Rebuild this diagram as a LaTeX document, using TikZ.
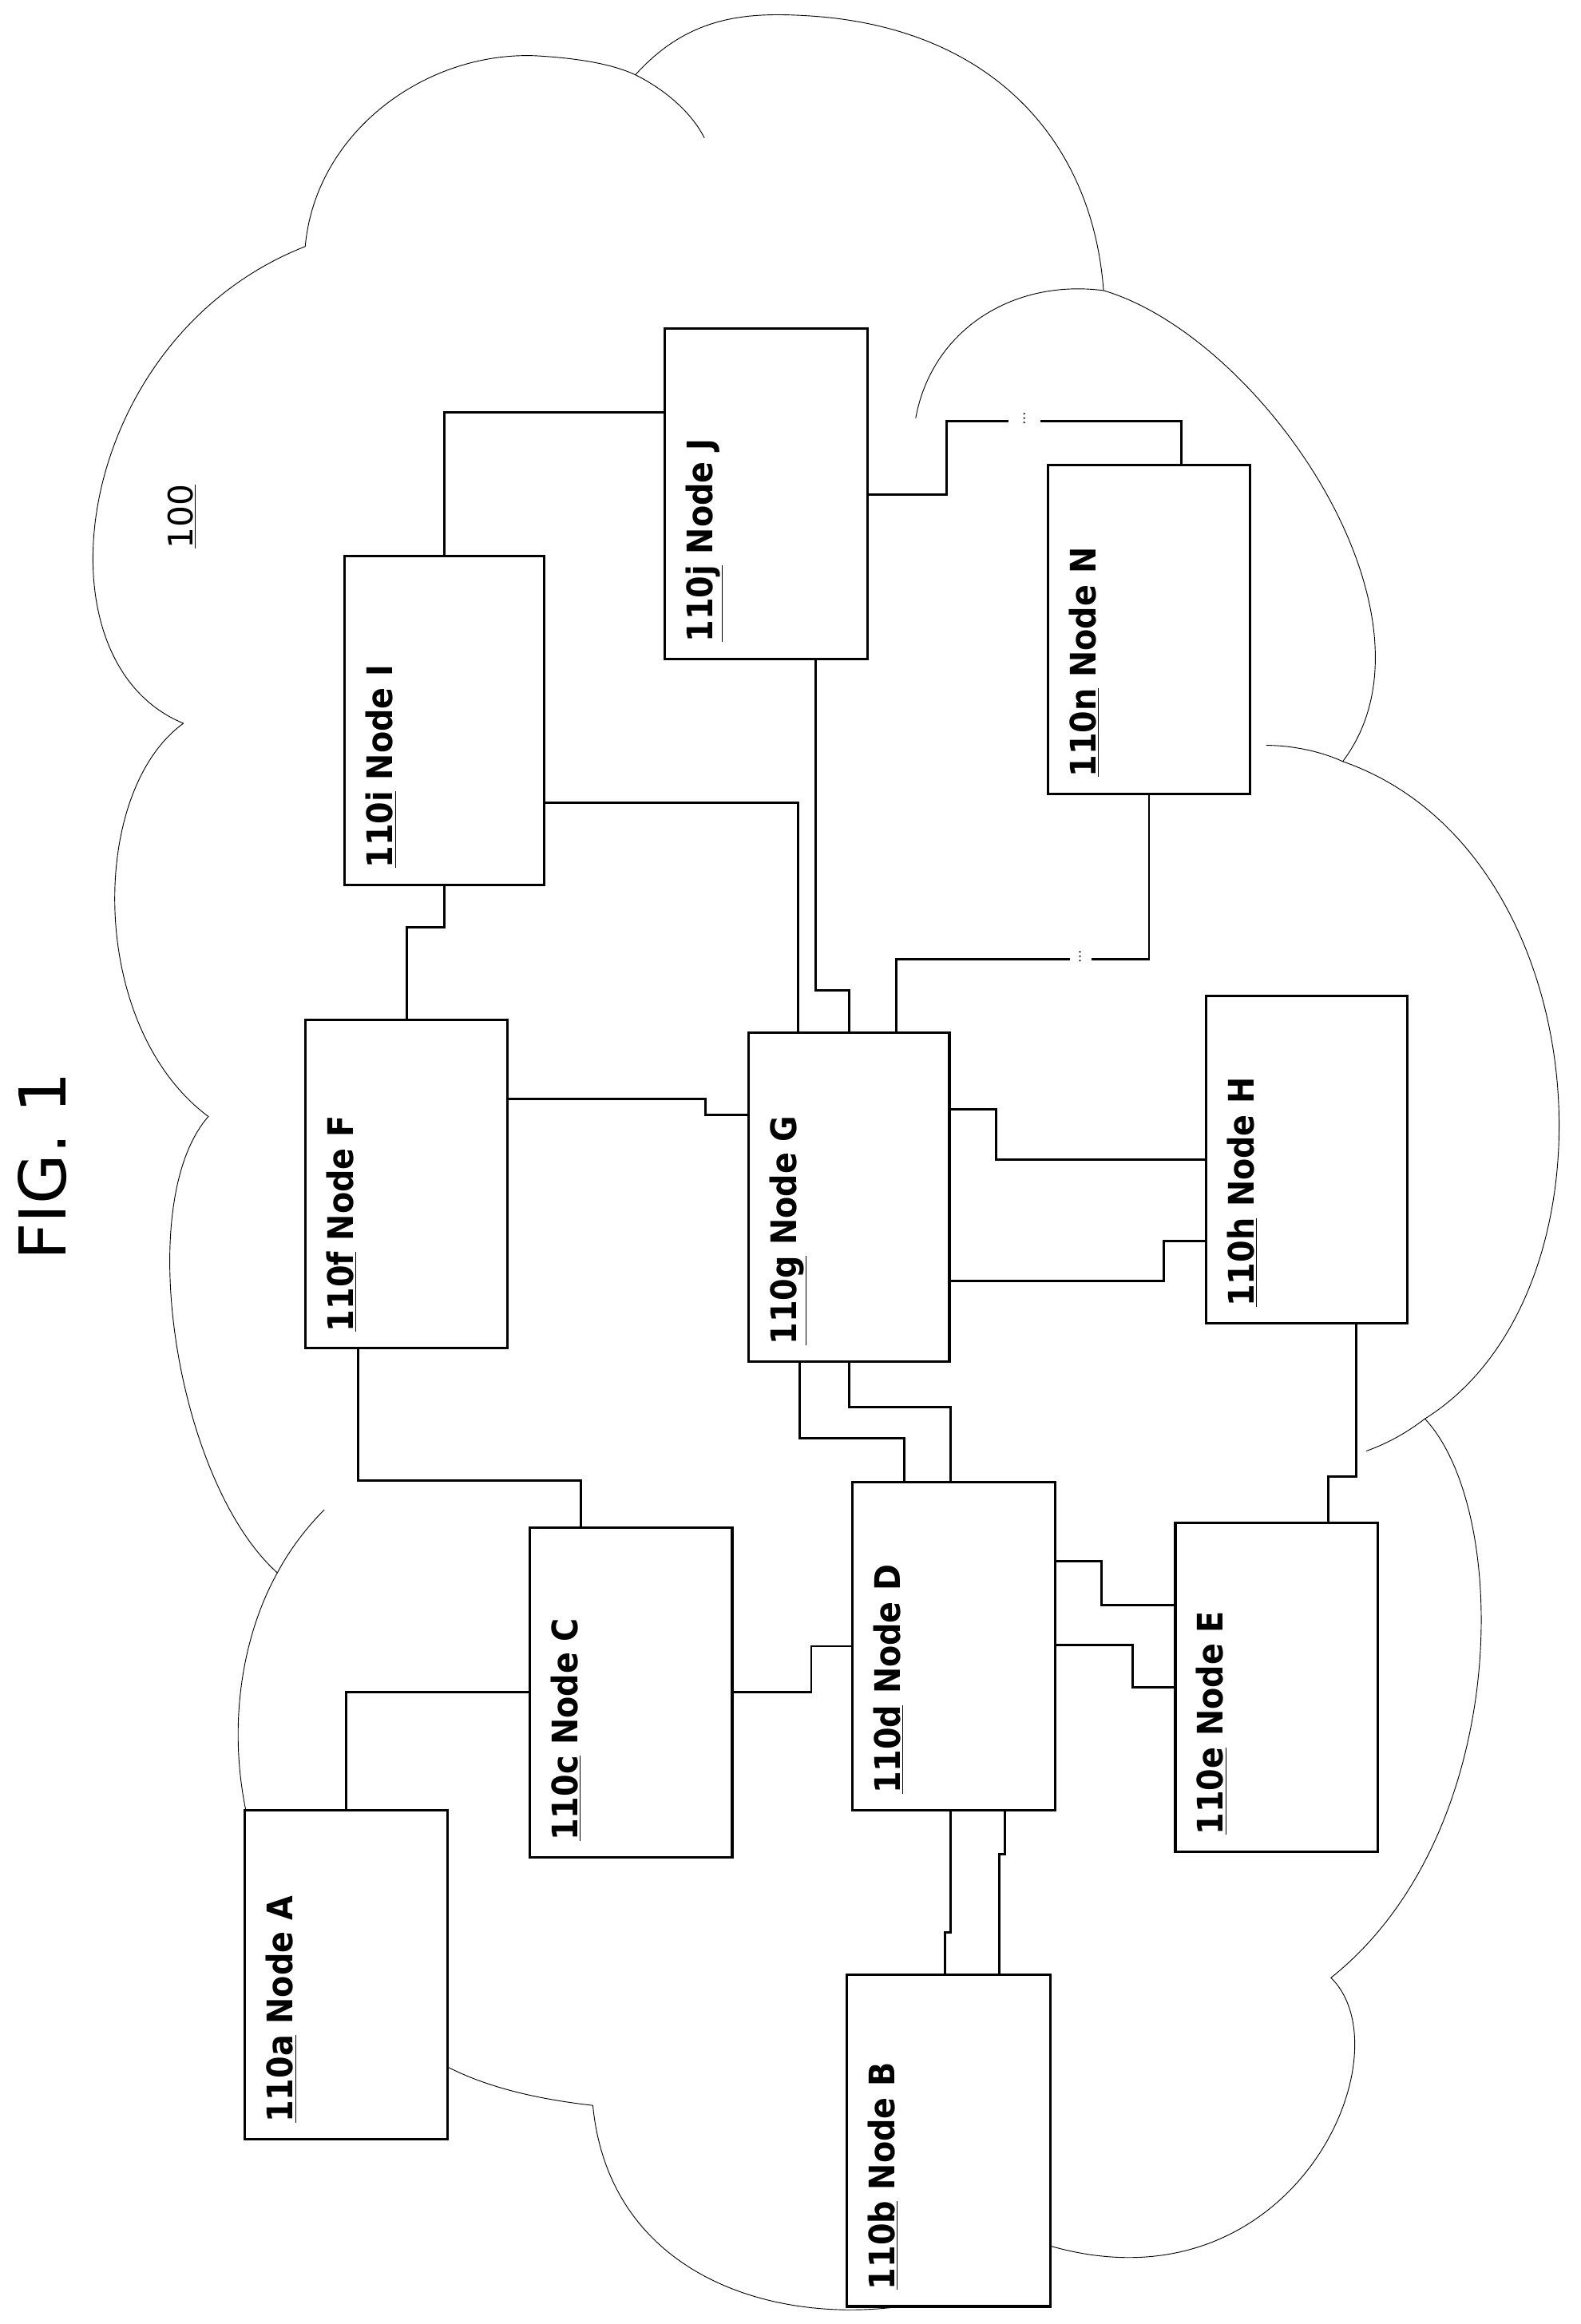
\documentclass[tikz,border=0pt]{standalone}
\usepackage{fontspec}
\setmainfont{DejaVu Sans}
\newfontfamily\nodefont{DejaVu Sans Condensed}
\begin{document}
\begin{tikzpicture}[x=1pt,y=1pt,
  box/.style={draw,line width=1.7pt,fill=white,inner sep=0pt,minimum width=138pt,minimum height=224pt},
  lab/.style={rotate=90,anchor=north west,inner sep=0pt,font=\nodefont\bfseries\fontsize{24}{28}\selectfont},
  con/.style={line width=1.6pt},
  cloud/.style={line width=0.5pt},
  dots/.style={rotate=90,inner sep=0pt,font=\fontsize{9}{9}\selectfont}]
\useasboundingbox[fill=white] (0,0) rectangle (1077,-1584);
% cloud
\draw[cloud] (125,-493) .. controls (20,-450) and (50,-230) .. (208,-168)
  .. controls (215,-90) and (290,-35) .. (365,-38)
  .. controls (400,-40) and (420,-45) .. (433,-51)
  .. controls (470,-10) and (510,-8) .. (554,-11)
  .. controls (680,-20) and (745,-100) .. (752,-198)
  .. controls (860,-230) and (990,-420) .. (915,-519)
  .. controls (1090,-580) and (1110,-880) .. (971,-967)
  .. controls (1030,-1030) and (1030,-1250) .. (907,-1348)
  .. controls (960,-1400) and (880,-1580) .. (713,-1530)
  .. controls (640,-1600) and (420,-1600) .. (404,-1435)
  .. controls (360,-1430) and (320,-1420) .. (290,-1400)
  .. controls (150,-1320) and (140,-1160) .. (189,-1072)
  .. controls (120,-1010) and (90,-820) .. (142,-761)
  .. controls (60,-700) and (60,-540) .. (125,-493);
\draw[cloud] (433,-51) .. controls (455,-62) and (472,-78) .. (480,-94);
\draw[cloud] (624,-285) .. controls (635,-225) and (690,-190) .. (752,-198);
\draw[cloud] (863,-508) .. controls (880,-508) and (900,-512) .. (915,-519);
\draw[cloud] (971,-967) .. controls (958,-977) and (945,-984) .. (931,-989);
\draw[cloud] (189,-1072) .. controls (198,-1055) and (210,-1040) .. (221,-1029);
% title and label
\node[rotate=90,font=\fontsize{44}{50}\selectfont] (fig) at (29,-795) {FIG. 1};
\node[rotate=90,font=\fontsize{23}{26}\selectfont] (cl) at (124,-352) {\underline{100}};
% boxes
\node[box] (A) at (236,-1346) {};
\node[box,minimum width=139pt,minimum height=226pt] (B) at (646.5,-1459) {};
\node[box,minimum height=225pt] (C) at (430,-1153.5) {};
\node[box] (D) at (650,-1122) {};
\node[box] (E) at (870,-1150) {};
\node[box] (F) at (277,-807) {};
\node[box,minimum width=137pt] (G) at (578.5,-816) {};
\node[box,minimum width=137pt,minimum height=223pt] (H) at (890.5,-790.5) {};
\node[box,minimum width=136pt] (I) at (303,-491) {};
\node[box,minimum height=225pt] (J) at (522,-336.5) {};
\node[box] (N) at (783,-429) {};
\foreach \n/\t in {A/110a,B/110b,C/110c,D/110d,E/110e,F/110f,G/110g,H/110h,I/110i,J/110j,N/110n}
  \node[lab] (l\n) at ([xshift=15pt,yshift=12pt]\n.south west) {\underline{\t} Node \n};
% connectors
\draw[con] (A.north) |- (C.west);
\draw[con] ([xshift=-34pt]C.north) -- ++(0,31) -| ([xshift=-33pt]F.south);
\draw[con] (C.east) -- ++(53,0) |- (D.west);
\draw[con] ([yshift=58pt]D.east) -- ++(31,0) |- ([yshift=56pt]E.west);
\draw[con] ([yshift=1pt]D.east) -- ++(52,0) |- (E.west);
\draw[con] ([xshift=-2pt]D.south) -- ++(0,-82) -| ([xshift=-2.5pt]B.north);
\draw[con] ([xshift=35pt]D.south) -- ++(0,-29) -| ([xshift=34.5pt]B.north);
\draw[con] ([xshift=-34pt]D.north) -- ++(0,29) -| ([xshift=-33.5pt]G.south);
\draw[con] ([xshift=-2pt]D.north) -- ++(0,50) -| (G.south);
\draw[con] ([xshift=35pt]E.north) -- ++(0,31) -| ([xshift=33.5pt]H.south);
\draw[con] ([yshift=60pt]G.east) -- ++(31,0) |- (H.west);
\draw[con] ([yshift=-57pt]G.east) -- ++(145,0) |- ([yshift=-55.5pt]H.west);
\draw[con] ([yshift=58pt]F.east) -- ++(134,0) |- ([yshift=56pt]G.west);
\draw[con] (F.north) -- ++(0,62) -| (I.south);
\draw[con] ([yshift=-56pt]I.east) -| ([xshift=-34.5pt]G.north);
\draw[con] ([xshift=34pt]J.south) -- ++(0,-225) -| (G.north);
\draw[con] (I.north) |- ([yshift=55.5pt]J.west);
\coordinate (gn1) at (729,-654);
\coordinate (gn2) at (744,-654);
\node[dots] (gnd) at (736,-652) {…};
\draw[con] ([xshift=32.5pt]G.north) |- (gn1);
\draw[con] (gn2) -| (N.south);
\coordinate (jn1) at (687,-287);
\coordinate (jn2) at (709,-287);
\node[dots] (jnd) at (698,-285) {…};
\draw[con] ([yshift=-0.5pt]J.east) -- ++(53,0) |- (jn1);
\draw[con] (jn2) -| ([xshift=22pt]N.north);
\end{tikzpicture}
\end{document}
